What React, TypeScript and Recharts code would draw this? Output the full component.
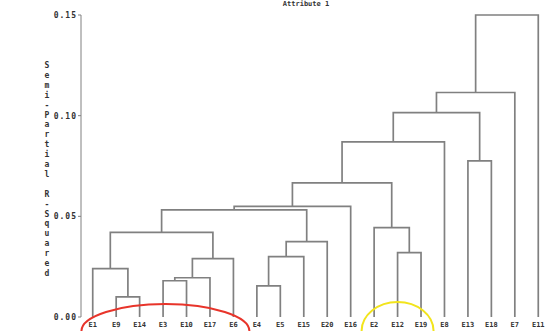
import { LineChart, Line, XAxis, YAxis, ReferenceDot } from 'recharts';

// leaf order along the bottom of the dendrogram
const leaves = ['E1', 'E9', 'E14', 'E3', 'E10', 'E17', 'E6', 'E4', 'E5', 'E15', 'E20', 'E16', 'E2', 'E12', 'E19', 'E8', 'E13', 'E18', 'E7', 'E11'];

// merge steps: a string is a leaf, a number points to an earlier merge
const mergeLeft: (string | number)[] = ['E9', 'E1', 'E3', 2, 3, 1, 'E4', 6, 7, 5, 9, 'E12', 'E2', 10, 13, 'E13', 14, 16, 17];
const mergeRight: (string | number)[] = ['E14', 0, 'E10', 'E17', 'E6', 4, 'E5', 'E15', 'E20', 8, 'E16', 'E19', 11, 12, 'E8', 'E18', 15, 'E7', 'E11'];
const mergeHeight = [0.010, 0.024, 0.018, 0.0195, 0.029, 0.042, 0.0155, 0.030, 0.0374, 0.0532, 0.0549, 0.032, 0.0444, 0.0666, 0.087, 0.0775, 0.1015, 0.1115, 0.150];

const yTicks = [0, 0.05, 0.1, 0.15];
const yLabel = 'Semi-Partial R-Squared';
const title = 'Attribute 1';

type Pt = { x: number; y: number };
const nodes: Pt[] = [];
const links: Pt[][] = mergeHeight.map((h, i) => {
  const pos = (ref: string | number): Pt =>
    typeof ref === 'string' ? { x: leaves.indexOf(ref), y: 0 } : nodes[ref];
  const a = pos(mergeLeft[i]);
  const b = pos(mergeRight[i]);
  nodes.push({ x: (a.x + b.x) / 2, y: h });
  return [
    { x: a.x, y: a.y },
    { x: a.x, y: h },
    { x: b.x, y: h },
    { x: b.x, y: b.y },
  ];
});

const font = '"DejaVu Sans Mono", monospace';
const lineColor = '#808080';

const VerticalLabel = () => (
  <text x={47} y={68} fill="#333" fontSize={8} fontWeight="bold" fontFamily={font} textAnchor="middle">
    {yLabel.split('').map((c, i) => (
      <tspan key={i} x={47} dy={i === 0 ? 0 : 9.9}>
        {c === ' ' ? '\u00a0' : c}
      </tspan>
    ))}
  </text>
);

const Ellipse = (color: string, rx: number, ry: number) => (props: any) => (
  <ellipse cx={props.cx} cy={props.cy} rx={rx} ry={ry} fill="none" stroke={color} strokeWidth={2} />
);

export default function App() {
  return (
    <div style={{ position: 'fixed', left: 0, top: 0, width: 552, height: 331, background: '#fff', overflow: 'hidden' }}>
      <div
        style={{
          position: 'absolute',
          left: 0,
          width: 612,
          top: 0,
          lineHeight: '8px',
          textAlign: 'center',
          fontFamily: font,
          fontWeight: 'bold',
          fontSize: 7,
          color: '#333',
        }}
      >
        {title}
      </div>
      <LineChart width={552} height={331} margin={{ top: 15, right: 2, bottom: 0, left: 0 }}>
        <XAxis
          type="number"
          dataKey="x"
          domain={[-0.5, leaves.length - 0.5]}
          ticks={leaves.map((_, i) => i)}
          interval={0}
          tickFormatter={(i) => leaves[i as number]}
          tick={{ fontSize: 7, fill: '#333', fontFamily: font, fontWeight: 'bold' }}
          tickLine={false}
          axisLine={false}
          tickSize={3}
          height={14}
        />
        <YAxis
          type="number"
          dataKey="y"
          domain={[0, 0.15]}
          ticks={yTicks}
          tickFormatter={(v) => (v as number).toFixed(2)}
          tick={{ fontSize: 8, fill: '#333', fontFamily: font, fontWeight: 'bold', letterSpacing: 1 }}
          tickSize={3}
          tickMargin={1}
          stroke={lineColor}
          width={81}
          label={{ content: () => <VerticalLabel /> }}
        />
        {links.map((d, i) => (
          <Line
            key={i}
            data={d}
            dataKey="y"
            type="linear"
            stroke={lineColor}
            strokeWidth={1.7}
            dot={false}
            activeDot={false}
            isAnimationActive={false}
          />
        ))}
        <ReferenceDot x={3.1} y={-0.007} ifOverflow="visible" shape={Ellipse('#e8342a', 84, 27)} />
        <ReferenceDot x={13} y={-0.007} ifOverflow="visible" shape={Ellipse('#f2e41c', 36, 29)} />
      </LineChart>
    </div>
  );
}
